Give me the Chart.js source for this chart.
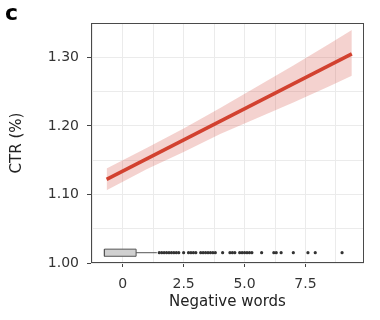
<!DOCTYPE html>
<html>
<head>
<meta charset="utf-8">
<script src="https://cdn.jsdelivr.net/npm/chart.js@4"></script>
<style>
  html, body { margin: 0; padding: 0; background: #fff; }
  #wrap { width: 380px; height: 320px; }
</style>
</head>
<body>
<div id="wrap"><canvas id="myChart" width="380" height="320"></canvas></div>
<script>
// fitted line (ends only, it is straight)
const lineX = [-0.66, 9.4];
const lineY = [1.122, 1.305];

// confidence band
const bandX    = [-0.66, 1.0,   2.5,   4.0,   5.5,   7.0,   8.5,   9.4];
const bandLow  = [1.106, 1.137, 1.162, 1.188, 1.211, 1.234, 1.258, 1.273];
const bandHigh = [1.138, 1.168, 1.196, 1.226, 1.257, 1.288, 1.320, 1.340];

// boxplot of negative words, drawn along the bottom
const boxRow = 1.015;
const boxEdges = [-0.75, 0.55];
const boxHalf = 0.0052;
const whiskerX = [0.55, 1.4];
const outliers = [1.5, 1.6, 1.7, 1.8, 1.9, 2.0, 2.1, 2.2, 2.3, 2.5, 2.7, 2.8, 2.9, 3.0,
  3.2, 3.3, 3.4, 3.5, 3.6, 3.7, 3.8, 4.1, 4.4, 4.5, 4.6, 4.8, 4.9, 5.0, 5.1, 5.2, 5.3,
  5.7, 6.2, 6.3, 6.5, 7.0, 7.6, 7.9, 9.0];

// axes
const xMin = -1.3, xMax = 9.9;
const yMin = 1.0, yMax = 1.35;
const xTicks = [-1.25, 0, 1.25, 2.5, 3.75, 5, 6.25, 7.5, 8.75];
const xLabels = { '0': '0', '2.5': '2.5', '5': '5.0', '7.5': '7.5' };
const yTicks = [1.0, 1.05, 1.1, 1.15, 1.2, 1.25, 1.3, 1.35];
const yLabels = { '1': '1.00', '1.1': '1.10', '1.2': '1.20', '1.3': '1.30' };

const font = 'DejaVu Sans';
const pts = (xs, ys) => xs.map((x, i) => ({ x: x, y: ys[i] }));

const panelBorder = {
  id: 'panelBorder',
  afterDatasetsDraw(chart) {
    const a = chart.chartArea, c = chart.ctx;
    c.save();
    c.strokeStyle = '#4a4a4a';
    c.lineWidth = 1;
    c.strokeRect(Math.round(a.left) + 0.5, Math.round(a.top) + 0.5,
      Math.round(a.right - a.left) - 1, Math.round(a.bottom - a.top) - 1);
    c.restore();
  }
};

const ctx = document.getElementById('myChart');
new Chart(ctx, {
  type: 'scatter',
  data: {
    datasets: [
      {
        data: pts(lineX, lineY),
        showLine: true, borderColor: '#d2412f', borderWidth: 3.5,
        pointRadius: 0, borderCapStyle: 'butt'
      },
      {
        data: pts(whiskerX, [boxRow, boxRow]),
        showLine: true, borderColor: '#555', borderWidth: 1, pointRadius: 0
      },
      {
        data: pts([boxEdges[0], boxEdges[1], boxEdges[1], boxEdges[0], boxEdges[0]],
          [boxRow - boxHalf, boxRow - boxHalf, boxRow + boxHalf, boxRow + boxHalf, boxRow - boxHalf]),
        showLine: true, fill: 'shape', backgroundColor: '#d0d0d0',
        borderColor: '#555', borderWidth: 1, pointRadius: 0
      },
      {
        data: outliers.map(v => ({ x: v, y: boxRow })),
        pointRadius: 1.6, pointBackgroundColor: '#333', pointBorderWidth: 0
      },
      {
        data: pts(bandX, bandLow),
        showLine: true, borderWidth: 0, pointRadius: 0, borderColor: 'rgba(0,0,0,0)'
      },
      {
        data: pts(bandX, bandHigh),
        showLine: true, borderWidth: 0, pointRadius: 0, borderColor: 'rgba(0,0,0,0)',
        fill: '-1', backgroundColor: 'rgba(214,80,70,0.26)'
      }
    ]
  },
  options: {
    responsive: false,
    animation: false,
    events: [],
    layout: { padding: { left: 5, right: 16, top: 0, bottom: 0 } },
    plugins: {
      legend: { display: false },
      tooltip: { enabled: false },
      title: {
        display: true, text: 'c', align: 'start', color: '#000',
        font: { family: 'DejaVu Sans', size: 22, weight: 'bold', lineHeight: 0.82 },
        padding: { top: 5, bottom: 0 }
      }
    },
    scales: {
      x: {
        type: 'linear', min: xMin, max: xMax,
        afterBuildTicks: s => { s.ticks = xTicks.map(v => ({ value: v })); },
        afterFit: s => { s.height = 57; },
        grid: {
          color: '#ebebeb', lineWidth: 1, tickLength: 4,
          tickColor: c => (c.tick && xLabels[String(c.tick.value)] !== undefined) ? '#444' : 'rgba(0,0,0,0)'
        },
        border: { display: false },
        ticks: {
          autoSkip: false, maxRotation: 0, padding: 9, color: '#333',
          font: { family: font, size: 14 },
          callback: v => xLabels[String(v)] ?? ''
        },
        title: {
          display: true, text: 'Negative words', color: '#222',
          font: { family: font, size: 15 }, padding: { top: 0, bottom: 9 }
        }
      },
      y: {
        type: 'linear', min: yMin, max: yMax,
        afterBuildTicks: s => { s.ticks = yTicks.map(v => ({ value: v })); },
        afterFit: s => { s.width = 86; },
        grid: {
          color: '#ebebeb', lineWidth: 1, tickLength: 4,
          tickColor: c => (c.tick && yLabels[String(+c.tick.value.toFixed(2))] !== undefined) ? '#444' : 'rgba(0,0,0,0)'
        },
        border: { display: false },
        ticks: {
          autoSkip: false, padding: 8, color: '#333',
          font: { family: font, size: 14 },
          callback: v => yLabels[String(+v.toFixed(2))] ?? ''
        },
        title: {
          display: true, text: 'CTR (%)', color: '#222',
          font: { family: font, size: 15 }, padding: { top: 3, bottom: 0 }
        }
      }
    }
  },
  plugins: [panelBorder]
});
</script>
</body>
</html>
